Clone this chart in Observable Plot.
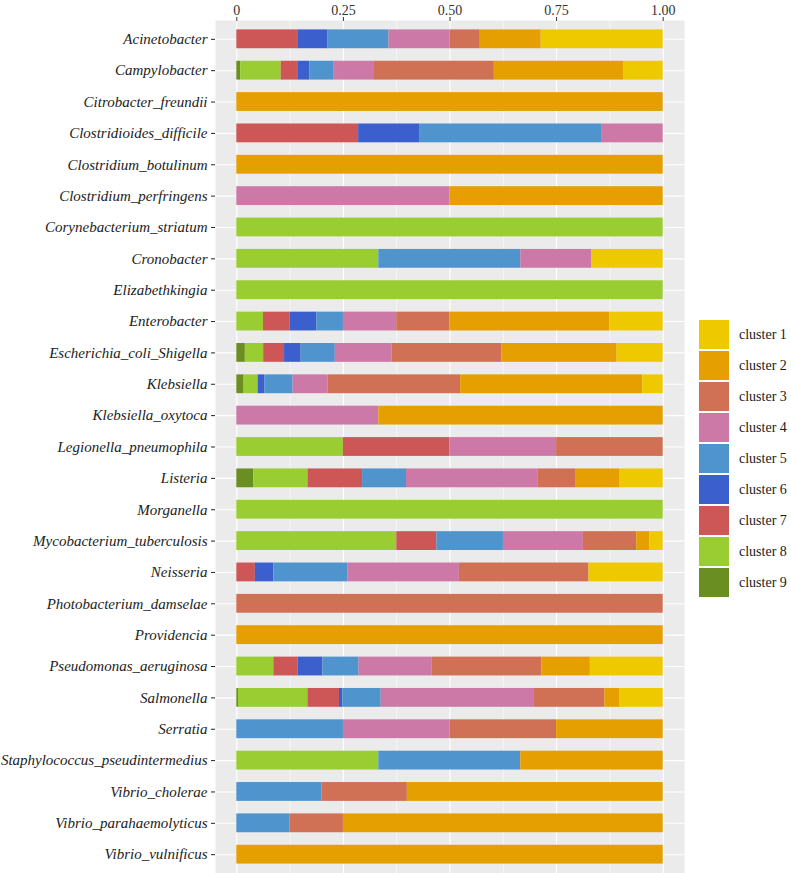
<!DOCTYPE html>
<html><head><meta charset="utf-8">
<script src="https://cdn.jsdelivr.net/npm/d3@7"></script>
<script src="https://cdn.jsdelivr.net/npm/@observablehq/plot@0.6"></script>
<style>
body{margin:0;background:#fff}
#wrap{position:relative;width:791px;height:873px}
#legend{position:absolute;left:699px;top:319px;font-family:"Liberation Serif",serif;font-size:14px;color:#1a1a1a}
.row{display:flex;align-items:center;height:31px}
.sw{width:30px;height:29px;margin-right:10px}
</style>
</head><body><div id="wrap"><div id="chart"></div><div id="legend"></div></div>
<script>
const categories = ["Acinetobacter","Campylobacter","Citrobacter_freundii","Clostridioides_difficile","Clostridium_botulinum","Clostridium_perfringens","Corynebacterium_striatum","Cronobacter","Elizabethkingia","Enterobacter","Escherichia_coli_Shigella","Klebsiella","Klebsiella_oxytoca","Legionella_pneumophila","Listeria","Morganella","Mycobacterium_tuberculosis","Neisseria","Photobacterium_damselae","Providencia","Pseudomonas_aeruginosa","Salmonella","Serratia","Staphylococcus_pseudintermedius","Vibrio_cholerae","Vibrio_parahaemolyticus","Vibrio_vulnificus"];

const cluster1 = [.286,.093,0,0,0,0,0,.167,0,.125,.108,.048,0,0,.101,0,.031,.174,0,0,.171,.101,0,0,0,0,0];
const cluster2 = [.143,.303,1,0,1,.5,0,0,0,.375,.270,.427,.667,0,.103,0,.031,0,0,1,.114,.036,.25,.334,.6,.75,1];
const cluster3 = [.071,.283,0,0,0,0,0,0,0,.125,.258,.311,0,.25,.090,0,.125,.304,1,0,.257,.167,.25,0,.2,.125,0];
const cluster4 = [.143,.094,0,.143,0,.5,0,.167,0,.125,.133,.082,.333,.25,.308,0,.1875,.261,0,0,.172,.358,.25,0,0,0,0];
const cluster5 = [.143,.056,0,.429,0,0,0,.333,0,.0625,.080,.066,0,0,.103,0,.156,.174,0,0,.085,.090,.25,.333,.2,.125,0];
const cluster6 = [.071,.028,0,.143,0,0,0,0,0,.0625,.039,.016,0,0,0,0,0,.0435,0,0,.058,.008,0,0,0,0,0];
const cluster7 = [.143,.039,0,.286,0,0,0,0,0,.0625,.049,0,0,.25,.128,0,.094,.0435,0,0,.057,.074,0,0,0,0,0];
const cluster8 = [0,.095,0,0,0,0,1,.333,1,.0625,.043,.033,0,.25,.127,1,.375,0,0,0,.087,.163,0,.333,0,0,0];
const cluster9 = [0,.009,0,0,0,0,0,0,0,0,.020,.017,0,0,.040,0,0,0,0,0,0,.004,0,0,0,0,0];

const clusterNames = ["cluster 1","cluster 2","cluster 3","cluster 4","cluster 5","cluster 6","cluster 7","cluster 8","cluster 9"];
const clusterColors = ["#EFC900","#E69F00","#D07055","#CC79A7","#4F94CD","#3B5FCD","#CD5656","#9ACD32","#6B8E23"];
const majorTicks = [0, 0.25, 0.5, 0.75, 1];
const minorTicks = [0.125, 0.375, 0.625, 0.875];

const series = [cluster1,cluster2,cluster3,cluster4,cluster5,cluster6,cluster7,cluster8,cluster9];
const data = [];
for (let k = series.length - 1; k >= 0; k--) {
  categories.forEach((c, i) => {
    if (series[k][i] > 0) data.push({category: c, cluster: clusterNames[k], value: series[k][i]});
  });
}

const chart = Plot.plot({
  width: 791, height: 873,
  marginLeft: 215, marginRight: 107, marginTop: 20, marginBottom: 0,
  style: {fontFamily: "'Liberation Serif', serif", background: "#fff"},
  x: {domain: [-0.05, 1.05], axis: null, label: null},
  y: {domain: categories, paddingInner: 0.4, paddingOuter: 0.3, round: false, axis: null, label: null},
  color: {domain: clusterNames, range: clusterColors},
  marks: [
    Plot.frame({fill: "#EBEBEB", stroke: null}),
    Plot.ruleX(minorTicks, {stroke: "#fff", strokeWidth: 0.55}),
    Plot.ruleX(majorTicks, {stroke: "#fff", strokeWidth: 1.1}),
    Plot.ruleY(categories, {y: d => d, stroke: "#fff", strokeWidth: 1.1}),
    Plot.barX(data, {y: "category", x: "value", fill: "cluster", offset: "normalize"}),
    Plot.axisX({anchor: "top", label: null, ticks: majorTicks, tickFormat: d => d === 0 ? "0" : d.toFixed(2), tickSize: 4, tickPadding: 2, fontSize: 14, color: "#333"}),
    Plot.axisY({label: null, tickSize: 4, tickPadding: 4, fontSize: 15, fontStyle: "italic", color: "#222"})
  ]
});
document.getElementById("chart").appendChild(chart);

const legend = document.getElementById("legend");
clusterNames.forEach((n, i) => {
  const row = document.createElement("div");
  row.className = "row";
  row.innerHTML = `<div class="sw" style="background:${clusterColors[i]}"></div><span>${n}</span>`;
  legend.appendChild(row);
});
</script>
</body></html>
